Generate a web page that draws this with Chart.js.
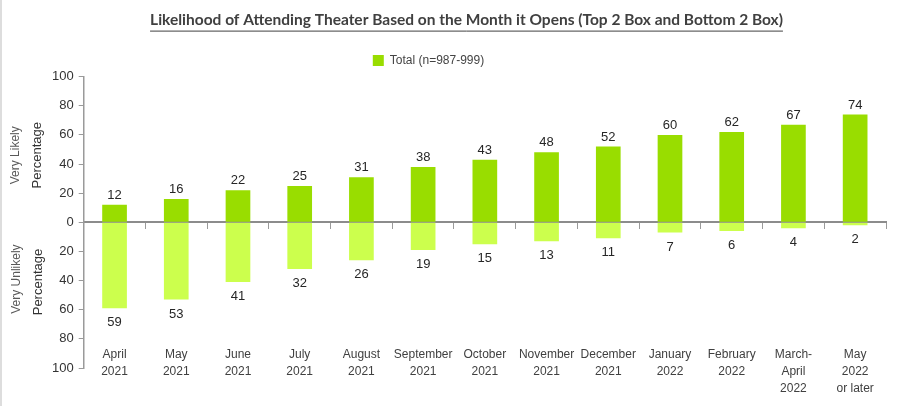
<!DOCTYPE html>
<html>
<head>
<meta charset="utf-8">
<script src="https://cdn.jsdelivr.net/npm/chart.js@4.4.1/dist/chart.umd.min.js"></script>
<style>
  html, body { margin: 0; padding: 0; background: #fff; }
  #wrap { width: 900px; height: 406px; position: relative; border-left: 2px solid #ddd; box-sizing: border-box; }
</style>
</head>
<body>
<div id="wrap"><canvas id="chart"></canvas></div>
<script>
// Chart data
const months = [
    ['April', '2021'], ['May', '2021'], ['June', '2021'], ['July', '2021'],
    ['August', '2021'], ['September', '2021'], ['October', '2021'], ['November', '2021'],
    ['December', '2021'], ['January', '2022'], ['February', '2022'],
    ['March-', 'April', '2022'], ['May', '2022', 'or later']
];
const veryLikely = [12, 16, 22, 25, 31, 38, 43, 48, 52, 60, 62, 67, 74];
const veryUnlikely = [59, 53, 41, 32, 26, 19, 15, 13, 11, 7, 6, 4, 2];
const yTicks = [-100, -80, -60, -40, -20, 0, 20, 40, 60, 80, 100];

const topColor = '#99dd00';
const bottomColor = '#ccff4d';
const axisGrey = '#9a9a9a';

// Value labels above/below each bar
const barLabels = {
    id: 'barLabels',
    afterDatasetsDraw(chart) {
        const ctx = chart.ctx;
        ctx.save();
        ctx.font = '13px "Liberation Sans", Arial, sans-serif';
        ctx.fillStyle = '#262626';
        ctx.textAlign = 'center';
        chart.data.datasets.forEach((ds, i) => {
            chart.getDatasetMeta(i).data.forEach((bar, j) => {
                const v = ds.data[j];
                if (v >= 0) {
                    ctx.textBaseline = 'bottom';
                    ctx.fillText(String(v), bar.x, bar.y - 3);
                } else {
                    ctx.textBaseline = 'top';
                    ctx.fillText(String(-v), bar.x, bar.y + 8);
                }
            });
        });
        ctx.restore();
    }
};

// Legend sits a little left of centre in the original
const legendShift = {
    id: 'legendShift',
    afterLayout(chart) {
        if (chart.legend) {
            chart.legend.left -= 38;
            chart.legend.right -= 38;
        }
    }
};

// Two rotated side titles and the title underline
const sideTitles = {
    id: 'sideTitles',
    afterDraw(chart) {
        const ctx = chart.ctx;
        const y = chart.scales.y;
        const drawRot = (text, x, yy, font, color) => {
            ctx.save();
            ctx.translate(x, yy);
            ctx.rotate(-Math.PI / 2);
            ctx.font = font;
            ctx.fillStyle = color;
            ctx.textAlign = 'center';
            ctx.textBaseline = 'middle';
            ctx.fillText(text, 0, 0);
            ctx.restore();
        };
        const light = '12px "Liberation Sans", Arial, sans-serif';
        const dark = '13px "Liberation Sans", Arial, sans-serif';
        drawRot('Very Likely', 14, y.getPixelForValue(46), light, '#595959');
        drawRot('Percentage', 35, y.getPixelForValue(46), dark, '#333');
        drawRot('Very Unlikely', 15, y.getPixelForValue(-39), light, '#595959');
        drawRot('Percentage', 36, y.getPixelForValue(-41), dark, '#333');

        // underline under the title
        const t = chart.titleBlock;
        if (t) {
            const tf = chart.options.plugins.title.font;
            ctx.save();
            ctx.font = tf.weight + ' ' + tf.size + 'px ' + tf.family;
            const w = ctx.measureText(chart.options.plugins.title.text).width;
            const cx = (t.left + t.right) / 2;
            const ly = t.bottom - chart.options.plugins.title.padding.bottom + 1;
            ctx.strokeStyle = '#404040';
            ctx.lineWidth = 1;
            ctx.beginPath();
            ctx.moveTo(cx - w / 2, ly + 0.5);
            ctx.lineTo(cx + w / 2, ly + 0.5);
            ctx.stroke();
            ctx.restore();
        }
    }
};

new Chart(document.getElementById('chart'), {
    type: 'bar',
    data: {
        labels: months,
        datasets: [
            {
                label: 'Total (n=987-999)',
                data: veryLikely,
                backgroundColor: topColor,
                barPercentage: 0.4,
                categoryPercentage: 1
            },
            {
                label: 'Very Unlikely',
                data: veryUnlikely.map(v => -v),
                backgroundColor: bottomColor,
                barPercentage: 0.4,
                categoryPercentage: 1
            }
        ]
    },
    options: {
        responsive: true,
        maintainAspectRatio: false,
        animation: false,
        grouped: false,
        layout: { padding: { left: 45, right: 14, top: 1, bottom: 29 } },
        plugins: {
            title: {
                display: true,
                text: 'Likelihood of Attending Theater Based on the Month it Opens (Top 2 Box and Bottom 2 Box)',
                color: '#404040',
                font: { family: 'Lato, "Open Sans", sans-serif', size: 15.5, weight: 'bold' },
                padding: { top: 10, bottom: 16 }
            },
            legend: {
                display: true,
                labels: {
                    filter: item => item.datasetIndex === 0,
                    boxWidth: 11,
                    boxHeight: 11,
                    color: '#444',
                    font: { family: '"Liberation Sans", Arial, sans-serif', size: 12 },
                    padding: 9
                }
            },
            tooltip: { enabled: false }
        },
        scales: {
            x: {
                position: 'bottom',
                offset: true,
                grid: { display: false, drawTicks: false },
                border: { display: false },
                ticks: {
                    autoSkip: false,
                    maxRotation: 0,
                    mirror: true,
                    padding: 4.5,
                    color: '#404040',
                    font: { family: '"Liberation Sans", Arial, sans-serif', size: 12, lineHeight: 1.42 }
                }
            },
            x2: {
                type: 'category',
                labels: months,
                position: { y: 0 },
                offset: true,
                ticks: { display: false },
                grid: {
                    display: true,
                    offset: true,
                    drawOnChartArea: false,
                    drawTicks: true,
                    tickLength: 6,
                    color: axisGrey
                },
                border: { display: true, color: '#8c8c8c', width: 2 }
            },
            y: {
                min: -100,
                max: 100,
                afterBuildTicks: axis => { axis.ticks = yTicks.map(v => ({ value: v })); },
                ticks: {
                    callback: v => Math.abs(v),
                    color: '#333',
                    padding: 5,
                    font: { family: '"Liberation Sans", Arial, sans-serif', size: 13 }
                },
                grid: {
                    drawOnChartArea: false,
                    drawTicks: true,
                    tickLength: 5,
                    color: axisGrey
                },
                border: { display: true, color: axisGrey, width: 1.5 }
            }
        }
    },
    plugins: [barLabels, legendShift, sideTitles]
});
</script>
</body>
</html>
